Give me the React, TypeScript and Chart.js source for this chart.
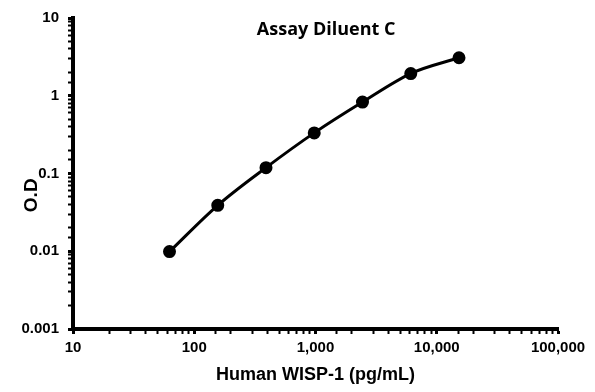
import React, { useEffect, useRef } from "react";
import { Chart, registerables } from "chart.js";

Chart.register(...registerables);

const concentrations = [62.5, 156.25, 390.6, 976.6, 2441, 6104, 15259];
const odValues = [0.0099, 0.039, 0.119, 0.333, 0.83, 1.93, 3.08];
const xTickLabels: Record<number, string> = { 1: "10", 2: "100", 3: "1,000", 4: "10,000", 5: "100,000" };
const yTickLabels: Record<number, string> = { [-3]: "0.001", [-2]: "0.01", [-1]: "0.1", 0: "1", 1: "10" };
const chartTitle = "Assay Diluent C";
const xTitle = "Human WISP-1 (pg/mL)";
const yTitle = "O.D";

function decade(v: number): number | null {
  const l = Math.log10(v);
  const r = Math.round(l);
  return Math.abs(l - r) < 1e-6 ? r : null;
}

const textPlugin = {
  id: "textPlugin",
  afterDraw(chart: any) {
    const { ctx, chartArea } = chart;
    ctx.save();
    ctx.fillStyle = "#000";
    ctx.textAlign = "center";
    ctx.textBaseline = "middle";
    ctx.font = "bold 18px 'Open Sans'";
    ctx.fillText(chartTitle, chartArea.left + chartArea.width * 0.522, chartArea.top + 12);
    ctx.translate(32, chartArea.top + chartArea.height * 0.57);
    ctx.rotate(-Math.PI / 2);
    ctx.font = "bold 19px 'Liberation Sans', Arial";
    ctx.fillText(yTitle, 0, 0);
    ctx.restore();
  },
};

export default function App() {
  const ref = useRef<HTMLCanvasElement>(null);
  useEffect(() => {
    document.body.style.margin = "0";
    const tickFont = { family: "'Liberation Sans', Arial, sans-serif", size: 15, weight: "bold" };
    const chart = new Chart(ref.current!, {
      type: "line",
      data: {
        datasets: [
          {
            data: concentrations.map((x, i) => ({ x, y: odValues[i] })),
            borderColor: "#000",
            backgroundColor: "#000",
            borderWidth: 3,
            pointRadius: 5,
            pointBackgroundColor: "#000",
            pointBorderColor: "#000",
            tension: 0.4,
            cubicInterpolationMode: "monotone",
          },
        ],
      },
      options: {
        responsive: false,
        animation: false,
        layout: { padding: { top: 15, right: 37, left: 0, bottom: 0 } },
        plugins: { legend: { display: false }, tooltip: { enabled: false } },
        scales: {
          x: {
            type: "logarithmic",
            min: 10,
            max: 100000,
            border: { display: true, color: "#000", width: 4 },
            grid: {
              drawOnChartArea: false,
              drawTicks: true,
              tickLength: 5,
              color: "#000",
              tickWidth: (c: any) => (decade(c.tick?.value ?? 1) !== null ? 3 : 2),
            } as any,
            ticks: {
              autoSkip: false,
              maxRotation: 0,
              padding: 5,
              color: "#000",
              font: tickFont,
              callback: (v: any) => {
                const d = decade(Number(v));
                return d !== null && xTickLabels[d] ? xTickLabels[d] : "";
              },
            },
            title: {
              display: true,
              text: xTitle,
              color: "#000",
              font: { family: "'Liberation Sans', Arial, sans-serif", size: 18, weight: "bold" },
              padding: { top: 0, bottom: 6 },
            },
            afterFit: (s: any) => {
              s.height = 63;
            },
          },
          y: {
            type: "logarithmic",
            min: 0.001,
            max: 10,
            border: { display: true, color: "#000", width: 4 },
            grid: {
              drawOnChartArea: false,
              drawTicks: true,
              tickLength: 5,
              color: "#000",
              tickWidth: (c: any) => (decade(c.tick?.value ?? 1) !== null ? 3 : 2),
            } as any,
            ticks: {
              autoSkip: false,
              padding: 9,
              color: "#000",
              font: tickFont,
              callback: (v: any) => {
                const d = decade(Number(v));
                return d !== null && yTickLabels[d] !== undefined ? yTickLabels[d] : "";
              },
            },
            afterFit: (s: any) => {
              s.width = 73;
            },
          },
        },
      } as any,
      plugins: [textPlugin],
    });
    return () => chart.destroy();
  }, []);
  return <canvas ref={ref} width={595} height={392} style={{ display: "block" }} />;
}
